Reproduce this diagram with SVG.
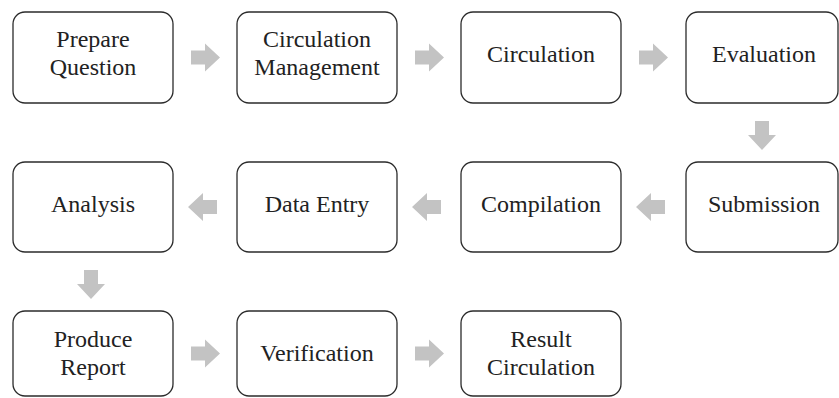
<svg xmlns="http://www.w3.org/2000/svg" width="839" height="398" viewBox="0 0 839 398">
<defs>
<style>
.box{fill:#fff;stroke:#2b2b2b;stroke-width:1.3}
.t{font-family:"Liberation Serif","Times New Roman",serif;font-size:24px;fill:#222;text-anchor:middle}
.arr{fill:#c3c3c3}
</style>
<polygon id="ar" class="arr" points="0,-7 14,-7 14,-14 29,0 14,14 14,7 0,7"/>
</defs>
<rect width="839" height="398" fill="#fff"/>
<g id="connectors">
<use href="#ar" transform="translate(191,57.5)"/>
<use href="#ar" transform="translate(415,57.5)"/>
<use href="#ar" transform="translate(639,57.5)"/>
<use href="#ar" transform="translate(762,121) rotate(90)"/>
<use href="#ar" transform="translate(665,207) rotate(180)"/>
<use href="#ar" transform="translate(441,207) rotate(180)"/>
<use href="#ar" transform="translate(217,207) rotate(180)"/>
<use href="#ar" transform="translate(91,270) rotate(90)"/>
<use href="#ar" transform="translate(191,353.5)"/>
<use href="#ar" transform="translate(415,353.5)"/>
</g>
<g id="prepare"><rect class="box" x="13" y="12" width="160" height="91" rx="12"/><text class="t" x="93" y="47">Prepare</text><text class="t" x="93" y="75">Question</text></g>
<g id="circmgmt"><rect class="box" x="237" y="12" width="160" height="91" rx="12"/><text class="t" x="317" y="47">Circulation</text><text class="t" x="317" y="75">Management</text></g>
<g id="circulation"><rect class="box" x="461" y="12" width="160" height="91" rx="12"/><text class="t" x="541" y="62">Circulation</text></g>
<g id="evaluation"><rect class="box" x="686" y="12" width="152" height="91" rx="12"/><text class="t" x="764" y="62">Evaluation</text></g>
<g id="analysis"><rect class="box" x="13" y="162" width="160" height="90" rx="12"/><text class="t" x="93" y="212">Analysis</text></g>
<g id="dataentry"><rect class="box" x="237" y="162" width="160" height="90" rx="12"/><text class="t" x="317" y="212">Data Entry</text></g>
<g id="compilation"><rect class="box" x="461" y="162" width="160" height="90" rx="12"/><text class="t" x="541" y="212">Compilation</text></g>
<g id="submission"><rect class="box" x="686" y="162" width="152" height="90" rx="12"/><text class="t" x="764" y="212">Submission</text></g>
<g id="produce"><rect class="box" x="13" y="311" width="160" height="85" rx="12"/><text class="t" x="93" y="347">Produce</text><text class="t" x="93" y="375">Report</text></g>
<g id="verification"><rect class="box" x="237" y="311" width="160" height="85" rx="12"/><text class="t" x="317" y="361">Verification</text></g>
<g id="result"><rect class="box" x="461" y="311" width="160" height="85" rx="12"/><text class="t" x="541" y="347">Result</text><text class="t" x="541" y="375">Circulation</text></g>
</svg>
